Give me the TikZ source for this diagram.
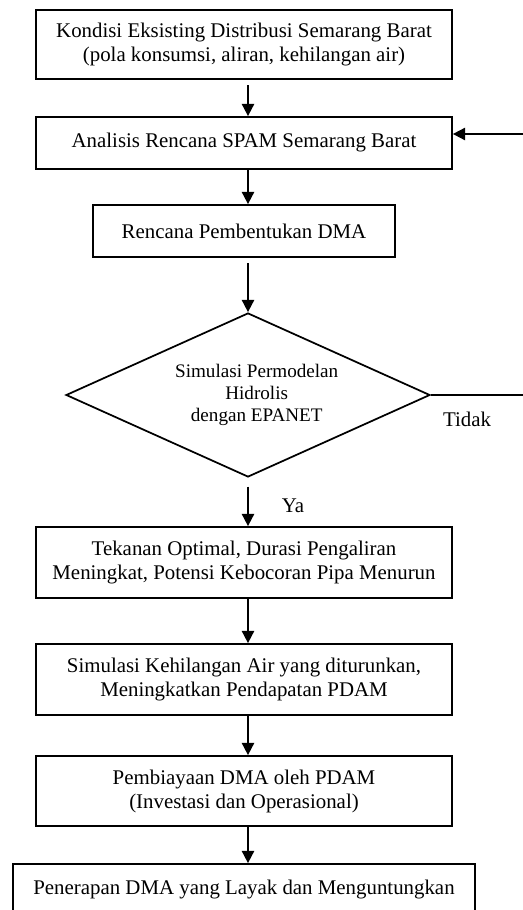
\documentclass[tikz,border=0pt]{standalone}
\usepackage{fontspec}
\setmainfont{Liberation Serif}
\usetikzlibrary{arrows.meta,shapes.geometric}
\newcommand{\px}{0.575pt}
\begin{document}
\begin{tikzpicture}[x=0.575pt,y=-0.575pt, font=\fontsize{12}{13.8}\selectfont,
        box/.style={draw, line width=1pt, align=center, inner sep=0pt, minimum width=416*\px},
        flow/.style={line width=1pt, -{Triangle[width=7pt,length=7pt]}}]
        \useasboundingbox (0,0) rectangle (522,910);

        \node[box, minimum height=69*\px] (kondisi) at (244, 44.5) {Kondisi Eksisting Distribusi Semarang Barat\\(pola konsumsi, aliran, kehilangan air)};
        \node[box, minimum height=52*\px] (analisis) at (244, 143) {Analisis Rencana SPAM Semarang Barat};
        \node[box, minimum height=52*\px, minimum width=302*\px] (rencana) at (244, 231) {Rencana Pembentukan DMA};
        \node[draw, line width=1pt, diamond, shape aspect=2.2, inner sep=0pt, align=center,
              minimum width=364*\px, minimum height=164*\px, font=\fontsize{11}{12.6}\selectfont] (simulasi) at (248, 395)
              {\hspace*{10pt}Simulasi Permodelan\\\hspace*{10pt}Hidrolis\\\hspace*{10pt}dengan EPANET};
        \node[box, minimum height=71*\px] (tekanan) at (244, 562.5) {Tekanan Optimal, Durasi Pengaliran\\Meningkat, Potensi Kebocoran Pipa Menurun};
        \node[box, minimum height=71*\px] (kehilangan) at (244, 679.5) {Simulasi Kehilangan Air yang diturunkan,\\Meningkatkan Pendapatan PDAM};
        \node[box, minimum height=70*\px] (biaya) at (244, 791) {Pembiayaan DMA oleh PDAM\\(Investasi dan Operasional)};
        \node[box, minimum height=50*\px, minimum width=462*\px] (penerapan) at (244, 889) {Penerapan DMA yang Layak dan Menguntungkan};

        \node (tidak) at (467, 419) {Tidak};
        \node (ya) at (293, 506) {Ya};
        \coordinate (balik) at (540, 134);

        \draw[flow] ([yshift=-3pt]kondisi.south -| simulasi) -- (analisis.north -| simulasi);
        \draw[flow] (analisis.south -| simulasi) -- (rencana.north -| simulasi);
        \draw[flow] ([yshift=-3pt]rencana.south -| simulasi) -- (simulasi.north);
        \draw[flow] ([yshift=-5pt]simulasi.south) -- (tekanan.north -| simulasi);
        \draw[flow] (tekanan.south -| simulasi) -- (kehilangan.north -| simulasi);
        \draw[flow] (kehilangan.south -| simulasi) -- (biaya.north -| simulasi);
        \draw[flow] (biaya.south -| simulasi) -- (penerapan.north -| simulasi);
        \draw[flow] (simulasi.east) -| (balik) -- (balik -| analisis.east);

    \end{tikzpicture}
\end{document}
